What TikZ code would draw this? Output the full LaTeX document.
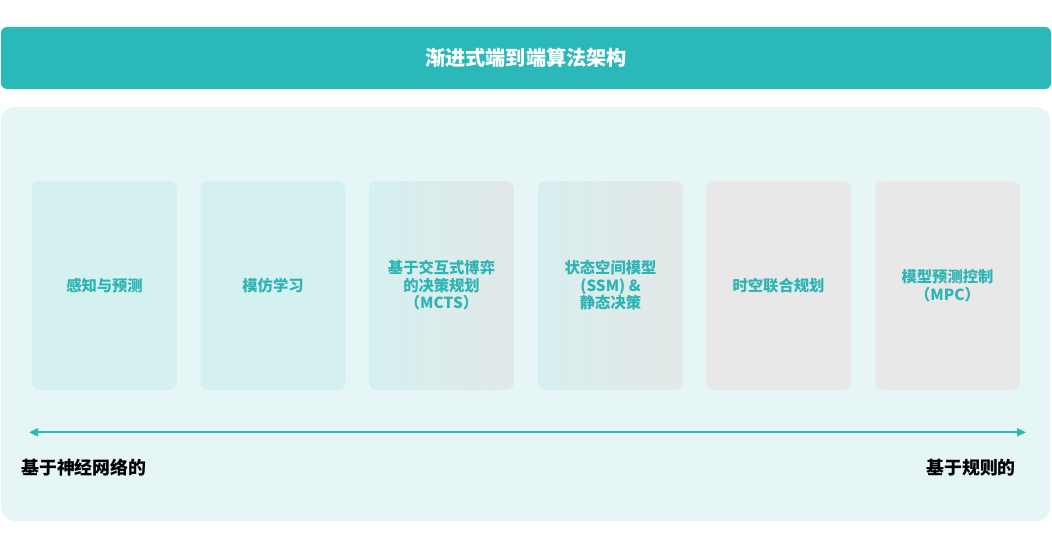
\documentclass[tikz,border=0pt]{standalone}
\usepackage{fontspec}
\setmainfont{Noto Sans CJK SC}
\usetikzlibrary{arrows.meta}
\definecolor{teal1}{HTML}{2BB8B8}
\definecolor{panelbg}{HTML}{E6F6F6}
\definecolor{cardteal}{HTML}{D5F0F0}
\definecolor{cardgrey}{HTML}{E8E8E8}
\definecolor{cardmid}{HTML}{E2E8E8}
\definecolor{cardtxt}{HTML}{2DB4B4}
\tikzset{
  card/.style={rounded corners=8pt, minimum width=145pt, minimum height=209pt,
    inner sep=0pt, align=center, text=cardtxt,
    font=\fontsize{15.3}{17.5}\selectfont\bfseries},
  bottomlbl/.style={inner sep=0pt, font=\fontsize{17.9}{20}\selectfont\bfseries, text=black},
}
\begin{document}
\begin{tikzpicture}[x=1pt,y=-1pt]
\useasboundingbox (0,0) rectangle (1052,543);
\fill[white] (0,0) rectangle (1052,543);
% title bar
\fill[teal1, rounded corners=6pt] (1,27) rectangle (1051,89);
\node[text=white, font=\fontsize{20.2}{22}\selectfont\bfseries] (title) at (526,58) {渐进式端到端算法架构};
% panel
\fill[panelbg, rounded corners=13pt] (1,107) rectangle (1050,521);
% cards
\node[card, fill=cardteal] (c1) at (104.5,285.5) {感知与预测};
\node[card, fill=cardteal] (c2) at (273,285.5) {模仿学习};
\node[card, left color=cardteal, right color=cardmid] (c3) at (441.5,285.5) {基于交互式博弈\\的决策规划\\（MCTS）};
\node[card, left color=cardteal!80!cardmid, right color=cardmid!60!cardgrey] (c4) at (610.5,285.5) {状态空间模型\\(SSM) \&\\静态决策};
\node[card, fill=cardgrey] (c5) at (778.5,285.5) {时空联合规划};
\node[card, fill=cardgrey] (c6) at (947.5,285.5) {模型预测控制\\（MPC）};
% arrow
\coordinate (aL) at (29,432.3);
\coordinate (aR) at (1026,432.3);
\draw[teal1, line width=1.8pt, {Triangle[length=9pt,width=8pt]}-{Triangle[length=9pt,width=8pt]}] (aL) -- (aR);
% labels
\node[bottomlbl, anchor=west] (lblL) at (21,467.5) {基于神经网络的};
\node[bottomlbl, anchor=east] (lblR) at (1016,467.5) {基于规则的};
\end{tikzpicture}
\end{document}
